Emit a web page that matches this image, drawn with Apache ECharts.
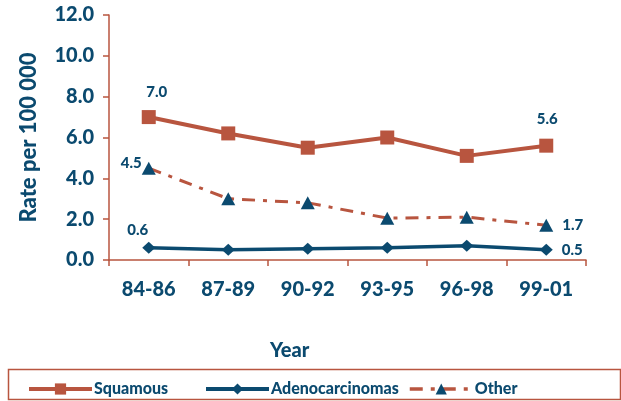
<!DOCTYPE html>
<html>
<head>
<meta charset="utf-8">
<script src="https://cdn.jsdelivr.net/npm/echarts@6/dist/echarts.min.js"></script>
<style>
  html, body { margin: 0; padding: 0; background: #fff; }
  #chart { width: 621px; height: 401px; }
</style>
</head>
<body>
<div id="chart"></div>
<script>
// Incidence rates by three-year period
const periods = ['84-86', '87-89', '90-92', '93-95', '96-98', '99-01'];
const squamous = [7.0, 6.2, 5.5, 6.0, 5.1, 5.6];
const adenocarcinomas = [0.6, 0.5, 0.55, 0.6, 0.7, 0.5];
const other = [4.5, 3.0, 2.8, 2.05, 2.1, 1.7];
const yTicks = [0, 2, 4, 6, 8, 10, 12];

const BROWN = '#b8553f';
const BLUE = '#0b4a6f';
const FONT = 'Lato, "Open Sans", sans-serif';
const WEIGHT = 900;

// Value labels shown only on selected points
function withLabels(values, labelled) {
  return values.map((v, i) => {
    const cfg = labelled[i];
    if (!cfg) return v;
    return {
      value: v,
      label: Object.assign({
        show: true,
        color: BLUE,
        fontFamily: FONT,
        fontWeight: WEIGHT,
        fontSize: 15,
        formatter: (p) => p.value.toFixed(1)
      }, cfg)
    };
  });
}

const chart = echarts.init(document.getElementById('chart'));

const legendBase = {
  orient: 'horizontal',
  top: 376,
  itemWidth: 63,
  itemHeight: 14,
  itemGap: 0,
  textStyle: { color: BLUE, fontFamily: FONT, fontWeight: WEIGHT, fontSize: 16, padding: [0, 0, 0, -3] },
  selectedMode: false
};

chart.setOption({
  animation: false,
  grid: { left: 109, right: 35, top: 15, bottom: 141, containLabel: false },
  xAxis: {
    type: 'category',
    data: periods,
    boundaryGap: true,
    axisLine: { lineStyle: { color: BROWN, width: 1.5 } },
    axisTick: { show: true, length: 6, lineStyle: { color: BROWN, width: 1.5 } },
    axisLabel: { color: BLUE, fontFamily: FONT, fontWeight: WEIGHT, fontSize: 20, margin: 20 }
  },
  yAxis: {
    type: 'value',
    min: yTicks[0],
    max: yTicks[yTicks.length - 1],
    interval: 2,
    name: 'Rate per 100 000',
    nameLocation: 'middle',
    nameGap: 69,
    nameTextStyle: { color: BLUE, fontFamily: FONT, fontWeight: WEIGHT, fontSize: 22 },
    splitLine: { show: false },
    axisLine: { show: true, lineStyle: { color: BROWN, width: 1.5 } },
    axisTick: { show: true, length: 6, lineStyle: { color: BROWN, width: 1.5 } },
    axisLabel: {
      color: BLUE, fontFamily: FONT, fontWeight: WEIGHT, fontSize: 20, margin: 15,
      formatter: (v) => v.toFixed(1)
    }
  },
  legend: [
    Object.assign({}, legendBase, { left: 22, data: ['Squamous'], lineStyle: { width: 4 } }),
    Object.assign({}, legendBase, { left: 199, data: ['Adenocarcinomas'], lineStyle: { width: 4 } }),
    Object.assign({}, legendBase, { left: 403, data: ['Other'], lineStyle: { width: 3.5 } })
  ],
  graphic: [
    {
      type: 'rect',
      shape: { x: 8.5, y: 369.5, width: 612, height: 30 },
      style: { fill: 'none', stroke: BROWN, lineWidth: 1.5 },
      silent: true
    },
    {
      type: 'text',
      left: 270,
      top: 341,
      style: { text: 'Year', fill: BLUE, font: WEIGHT + ' 20px ' + FONT }
    }
  ],
  series: [
    {
      name: 'Squamous',
      type: 'line',
      data: withLabels(squamous, {
        0: { position: 'top', distance: 10, offset: [8, 0] },
        5: { position: 'top', distance: 12, offset: [1, 0] }
      }),
      symbol: 'rect',
      symbolSize: 14,
      itemStyle: { color: BROWN },
      lineStyle: { color: BROWN, width: 4 },
      z: 3
    },
    {
      name: 'Adenocarcinomas',
      type: 'line',
      data: withLabels(adenocarcinomas, {
        0: { position: 'top', distance: 4, offset: [-11, 0] },
        5: { position: 'right', distance: 9 }
      }),
      symbol: 'diamond',
      symbolSize: [13, 12],
      itemStyle: { color: BLUE },
      lineStyle: { color: BLUE, width: 3.5 },
      z: 4
    },
    {
      name: 'Other',
      type: 'line',
      data: withLabels(other, {
        0: { position: 'left', distance: 0, offset: [0, -5] },
        5: { position: 'right', distance: 9 }
      }),
      symbol: 'triangle',
      symbolSize: [14, 13],
      itemStyle: { color: BLUE },
      lineStyle: { color: BROWN, width: 3, type: [13, 8, 4, 8] },
      z: 2
    }
  ]
});
</script>
</body>
</html>
